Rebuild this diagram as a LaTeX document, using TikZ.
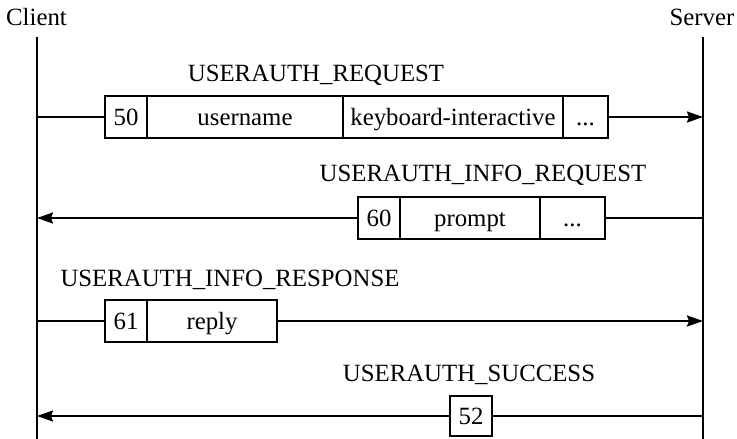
\documentclass[tikz,border=0pt]{standalone}
\usepackage{fontspec}
\setmainfont{Liberation Serif}
\usetikzlibrary{positioning,arrows.meta}
\begin{document}
\begin{tikzpicture}[x=1pt,y=-1pt,line width=2pt,
	every node/.style={font=\fontsize{24.8}{29}\selectfont},
	field/.style={draw,rectangle,minimum height=42pt,inner sep=0pt,outer sep=0pt,
		text height=16pt,text depth=0pt,anchor=west},
	msg/.style={-{Stealth[length=16pt,width=11pt,inset=2pt]}}]
	\useasboundingbox (0,0) rectangle (737,439);
	\node[anchor=base] (client) at (36.5,25) {Client};
	\node[anchor=base] (server) at (702,25) {Server};
	\coordinate (ctop) at (37,37);
	\coordinate (cbot) at (37,439);
	\coordinate (stop) at (703,37);
	\coordinate (sbot) at (703,439);
	\draw (ctop) -- (cbot);
	\draw (stop) -- (sbot);
	\node[anchor=base] (reqlbl) at (316,81) {USERAUTH\_REQUEST};
	\node[field,minimum width=42pt] (r50) at (105,117) {50};
	\node[field,minimum width=196pt,right=0pt of r50] (ruser) {username};
	\node[field,minimum width=220pt,right=0pt of ruser] (rmeth) {keyboard-interactive};
	\node[field,minimum width=45pt,right=0pt of rmeth] (rmore) {...};
	\draw (r50.west -| ctop) -- (r50.west);
	\draw[msg] (rmore.east) -- (rmore.east -| stop);
	\node[anchor=base] (infolbl) at (483,181) {USERAUTH\_INFO\_REQUEST};
	\node[field,minimum width=42pt] (i60) at (358,218) {60};
	\node[field,minimum width=140pt,right=0pt of i60] (iprompt) {prompt};
	\node[field,minimum width=65pt,right=0pt of iprompt] (imore) {...};
	\draw (imore.east -| stop) -- (imore.east);
	\draw[msg] (i60.west) -- (i60.west -| ctop);
	\node[anchor=base] (resplbl) at (230,286) {USERAUTH\_INFO\_RESPONSE};
	\node[field,minimum width=42pt] (p61) at (105,321) {61};
	\node[field,minimum width=130pt,right=0pt of p61] (preply) {reply};
	\draw (p61.west -| ctop) -- (p61.west);
	\draw[msg] (preply.east) -- (preply.east -| stop);
	\node[anchor=base] (succlbl) at (469,381) {USERAUTH\_SUCCESS};
	\node[field,minimum width=42pt,minimum height=40pt] (s52) at (450,416) {52};
	\draw (s52.east -| stop) -- (s52.east);
	\draw[msg] (s52.west) -- (s52.west -| ctop);
\end{tikzpicture}
\end{document}
